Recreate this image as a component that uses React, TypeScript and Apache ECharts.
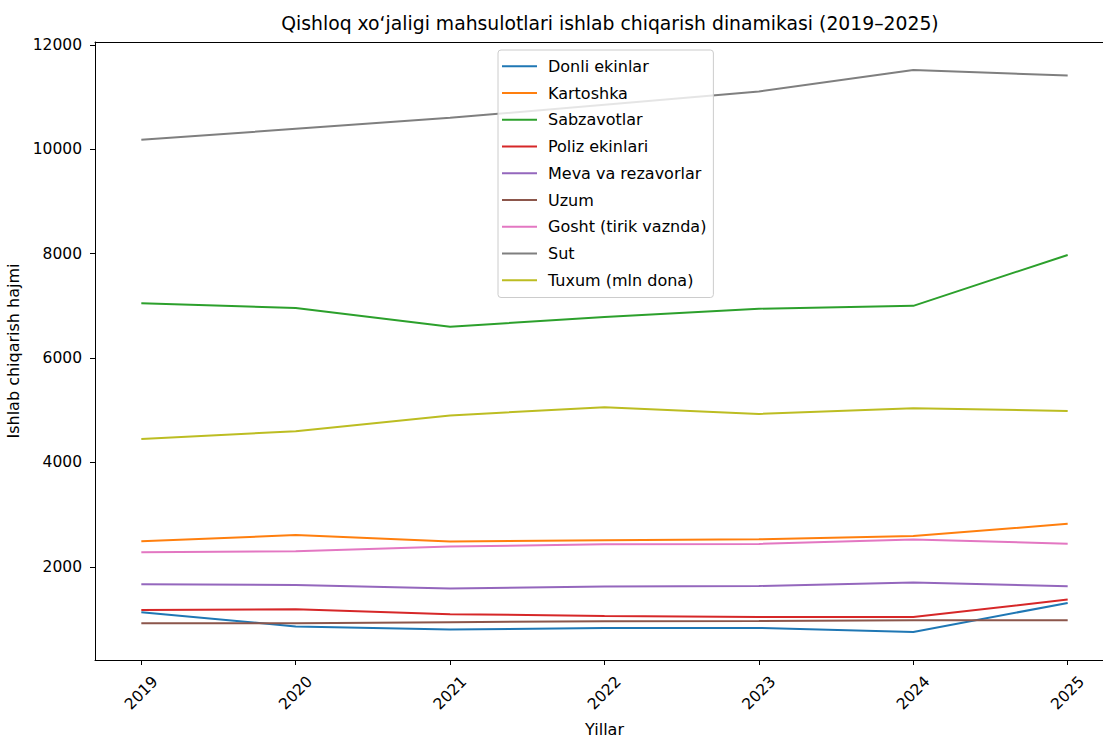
import React, { useEffect, useRef } from "react";
import * as echarts from "echarts";

const years = [2019, 2020, 2021, 2022, 2023, 2024, 2025];
const yTicks = [2000, 4000, 6000, 8000, 10000, 12000];

const donliEkinlar = [1130, 860, 800, 830, 830, 755, 1310];
const kartoshka = [2490, 2610, 2485, 2510, 2530, 2590, 2825];
const sabzavotlar = [7050, 6960, 6600, 6785, 6945, 7000, 7975];
const polizEkinlari = [1175, 1190, 1095, 1060, 1040, 1040, 1375];
const mevaRezavorlar = [1670, 1655, 1585, 1625, 1635, 1700, 1630];
const uzum = [920, 920, 940, 960, 962, 980, 980];
const gosht = [2280, 2300, 2390, 2435, 2440, 2525, 2445];
const sut = [10180, 10390, 10600, 10850, 11105, 11515, 11410];
const tuxum = [4450, 4600, 4900, 5060, 4930, 5040, 4985];

const seriesNames = [
  "Donli ekinlar",
  "Kartoshka",
  "Sabzavotlar",
  "Poliz ekinlari",
  "Meva va rezavorlar",
  "Uzum",
  "Gosht (tirik vaznda)",
  "Sut",
  "Tuxum (mln dona)",
];
const seriesValues = [
  donliEkinlar,
  kartoshka,
  sabzavotlar,
  polizEkinlari,
  mevaRezavorlar,
  uzum,
  gosht,
  sut,
  tuxum,
];
const colors = [
  "#1f77b4",
  "#ff7f0e",
  "#2ca02c",
  "#d62728",
  "#9467bd",
  "#8c564b",
  "#e377c2",
  "#7f7f7f",
  "#bcbd22",
];

const FONT = "DejaVu Sans";
const FS = 15.5;
const FS2 = 16;

export default function App() {
  const ref = useRef<HTMLDivElement>(null);
  useEffect(() => {
    if (!ref.current) return;
    const chart = echarts.init(ref.current, null, { renderer: "svg" });
    chart.setOption({
      animation: false,
      backgroundColor: "#ffffff",
      color: colors,
      textStyle: { fontFamily: FONT },
      title: {
        text: "Qishloq xo‘jaligi mahsulotlari ishlab chiqarish dinamikasi (2019–2025)",
        left: 605,
        textAlign: "center",
        top: 9,
        textStyle: { fontFamily: FONT, fontSize: 18.8, fontWeight: "normal", color: "#000" },
      },
      grid: {
        left: 95,
        right: -11,
        top: 42,
        bottom: 78,
        show: false,
        containLabel: false,
        outerBoundsMode: "none",
      },
      legend: {
        orient: "vertical",
        left: 498,
        top: 50,
        padding: [7, 7, 8, 4],
        itemWidth: 35,
        itemHeight: 2,
        itemGap: 8.25,
        icon: "rect",
        backgroundColor: "rgba(255,255,255,0.8)",
        borderColor: "#cccccc",
        borderWidth: 1,
        borderRadius: 3,
        textStyle: {
          fontFamily: FONT,
          fontSize: FS2,
          color: "#000",
          lineHeight: 18.5,
          padding: [0, 0, 0, 6],
        },
        data: seriesNames,
      },
      xAxis: [
        {
          type: "value",
          min: 2018.7,
          max: 2025.3,
          name: "Yillar",
          nameLocation: "middle",
          nameGap: 61,
          nameTextStyle: { fontFamily: FONT, fontSize: FS2, color: "#000" },
          axisLine: { show: true, onZero: false, lineStyle: { color: "#000", width: 1 } },
          axisTick: { show: true, length: 5, lineStyle: { color: "#000" }, customValues: years },
          axisLabel: {
            customValues: years,
            rotate: 45,
            align: "center",
            verticalAlign: "middle",
            margin: 33,
            fontFamily: FONT,
            fontSize: FS,
            color: "#000",
            formatter: (v: number) => String(Math.round(v)),
          },
          splitLine: { show: false },
        },
        {
          type: "value",
          position: "top",
          min: 2018.7,
          max: 2025.3,
          axisLine: { show: true, onZero: false, lineStyle: { color: "#000", width: 1 } },
          axisTick: { show: false },
          axisLabel: { show: false },
          splitLine: { show: false },
        },
      ],
      yAxis: {
        type: "value",
        min: 217,
        max: 12053,
        name: "Ishlab chiqarish hajmi",
        nameLocation: "middle",
        nameGap: 65,
        nameRotate: 90,
        nameTextStyle: { fontFamily: FONT, fontSize: FS2, color: "#000" },
        axisLine: { show: true, onZero: false, lineStyle: { color: "#000", width: 1 } },
        axisTick: { show: true, length: 5, lineStyle: { color: "#000" }, customValues: yTicks },
        axisLabel: {
          customValues: yTicks,
          margin: 13,
          fontFamily: FONT,
          fontSize: FS,
          color: "#000",
          formatter: (v: number) => String(Math.round(v)),
        },
        splitLine: { show: false },
      },
      series: seriesNames.map((name, i) => ({
        name,
        type: "line",
        xAxisIndex: 0,
        data: years.map((y, j) => [y, seriesValues[i][j]]),
        showSymbol: false,
        symbol: "none",
        lineStyle: { width: 2, color: colors[i] },
        itemStyle: { color: colors[i] },
        emphasis: { disabled: true },
      })),
    });
    return () => chart.dispose();
  }, []);
  return (
    <div
      ref={ref}
      style={{ position: "fixed", left: 0, top: 0, width: 1103, height: 738 }}
    />
  );
}
